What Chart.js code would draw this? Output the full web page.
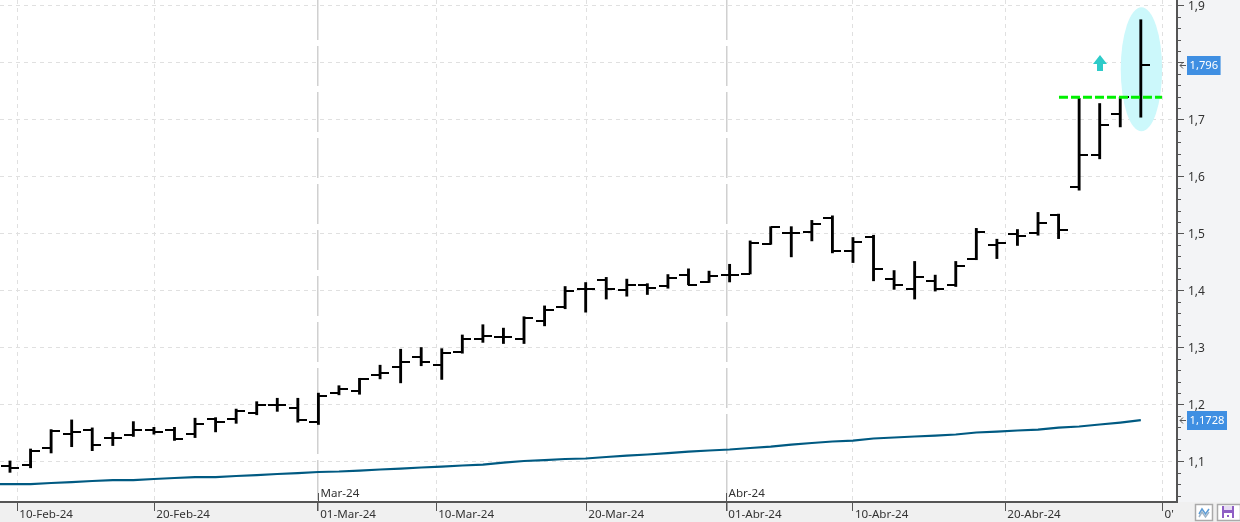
<!DOCTYPE html>
<html>
<head>
<meta charset="utf-8">
<title>Chart</title>
<style>
  html, body { margin: 0; padding: 0; background: #fff; }
  canvas { display: block; }
</style>
<script src="https://cdn.jsdelivr.net/npm/chart.js@4/dist/chart.umd.min.js"></script>
</head>
<body>
<canvas id="grafico" width="1240" height="522"></canvas>
<script>
// daily bars, index 0 = first session on screen
var openValues = [1.092,1.094,1.123,1.149,1.156,1.142,1.147,1.156,1.156,1.149,1.175,1.175,1.185,1.199,1.194,1.169,
  1.221,1.224,1.251,1.266,1.283,1.270,1.292,1.315,1.318,1.315,1.347,1.371,1.402,1.419,1.401,1.409,1.408,1.427,1.415,1.427,
  1.429,1.482,1.500,1.503,1.527,1.470,1.493,1.421,1.403,1.416,1.410,1.455,1.480,1.499,1.500,1.533,1.582,1.638,1.710,1.739];
var highValues = [1.101,1.122,1.156,1.173,1.159,1.151,1.170,1.160,1.160,1.176,1.177,1.192,1.205,1.211,1.211,1.220,
  1.233,1.246,1.269,1.297,1.300,1.298,1.322,1.340,1.334,1.354,1.373,1.407,1.414,1.423,1.420,1.412,1.428,1.438,1.434,1.446,
  1.487,1.512,1.512,1.523,1.531,1.493,1.497,1.435,1.451,1.427,1.451,1.509,1.490,1.507,1.537,1.534,1.737,1.728,1.739,1.875];
var lowValues = [1.081,1.089,1.115,1.126,1.119,1.128,1.144,1.148,1.137,1.142,1.152,1.167,1.182,1.188,1.169,1.165,
  1.217,1.218,1.245,1.238,1.268,1.244,1.290,1.309,1.307,1.307,1.338,1.368,1.362,1.385,1.390,1.393,1.404,1.410,1.414,1.415,
  1.429,1.481,1.459,1.487,1.466,1.449,1.417,1.402,1.385,1.399,1.407,1.454,1.456,1.479,1.497,1.491,1.576,1.631,1.687,1.704];
var closeValues = [1.088,1.119,1.154,1.152,1.129,1.142,1.156,1.151,1.139,1.166,1.170,1.189,1.200,1.199,1.173,1.215,
  1.227,1.244,1.255,1.275,1.275,1.291,1.315,1.320,1.318,1.351,1.366,1.400,1.403,1.403,1.410,1.404,1.422,1.410,1.426,1.427,
  1.484,1.512,1.500,1.517,1.469,1.485,1.438,1.410,1.423,1.403,1.443,1.503,1.484,1.495,1.519,1.506,1.638,1.690,1.739,1.796];

// moving average, first value sits one session before the screen
var avgValues = [1.0605,1.0605,1.0605,1.0623,1.0640,1.0658,1.0675,1.0675,1.0693,1.0711,1.0728,1.0728,1.0746,1.0763,1.0781,1.0798,1.0816,
  1.0825,1.0842,1.0860,1.0877,1.0895,1.0912,1.0930,1.0947,1.0982,1.1009,1.1026,1.1044,1.1053,1.1079,1.1105,1.1123,1.1149,1.1175,1.1193,1.1211,
  1.1237,1.1263,1.1298,1.1325,1.1351,1.1368,1.1404,1.1421,1.1439,1.1456,1.1474,1.1509,1.1526,1.1544,1.1561,1.1596,1.1614,1.1649,1.1684,1.1725];

var dateTicks = [0.355,7.02,14.99,20.73,28.03,34.84,41.0,48.41,56.06];
var dateLabels = ['10-Feb-24','20-Feb-24','01-Mar-24','10-Mar-24','20-Mar-24','01-Abr-24','10-Abr-24','20-Abr-24',"0'"];
var monthTicks = [14.99,34.84];
var monthLabels = ['Mar-24','Abr-24'];
var yTicks = [1.1,1.2,1.3,1.4,1.5,1.6,1.7,1.8,1.9];
var yTickLabels = ['1,1','1,2','1,3','1,4','1,5','1,6','1,7','1,8','1,9'];
var yMinorTicks = [1.04,1.06,1.08,1.12,1.14,1.16,1.18,1.22,1.24,1.26,1.28,1.32,1.34,1.36,1.38,1.42,1.44,1.46,1.48,1.52,1.54,1.56,1.58,1.62,1.64,1.66,1.68,1.72,1.74,1.76,1.78,1.82,1.84,1.86,1.88];
var resistLine = [{x:51.02,y:1.739},{x:56.03,y:1.739}];
var signalArrow = [{x:53,y:1.799}];
var ellipseCentre = {x:55.03,y:1.788};
var lastPrices = [1.796,1.1728];
var lastPriceLabels = ['1,796','1,1728'];

var FONT = '"Noto Sans"';

function tickImage(side){
  var c = document.createElement('canvas');
  c.width = 18; c.height = 2;
  var g = c.getContext('2d');
  g.fillStyle = '#000';
  if(side == 'left') g.fillRect(0,0,9,2); else g.fillRect(9,0,9,2);
  return c;
}

function arrowImage(){
  var c = document.createElement('canvas');
  c.width = 16; c.height = 17;
  var g = c.getContext('2d');
  g.fillStyle = '#2ecbc9';
  g.beginPath();
  g.moveTo(8,0); g.lineTo(15,9); g.lineTo(11,9); g.lineTo(11,16); g.lineTo(5,16); g.lineTo(5,9); g.lineTo(1,9);
  g.closePath();
  g.fill();
  return c;
}

function conIndice(valores,desde){
  var salida = [];
  for(var i=0;i<valores.length;i++){
    salida.push({x:i+desde,y:valores[i]});
  }
  return salida;
}

var rangos = [];
for(var i=0;i<highValues.length;i++){
  rangos.push({x:i,y:[lowValues[i],highValues[i]]});
}

var decoracion = {
  id:'decoracion',
  beforeDraw:function(chart){
    var ctx = chart.ctx, a = chart.chartArea;
    ctx.save();
    ctx.fillStyle = '#fff';
    ctx.fillRect(0,0,chart.width,chart.height);
    ctx.fillStyle = '#f0f0f0';
    ctx.fillRect(0,a.bottom,chart.width,chart.height-a.bottom);
    ctx.fillStyle = '#f3f4f6';
    ctx.fillRect(a.right,0,chart.width-a.right,a.bottom);
    ctx.restore();
  },
  beforeDatasetsDraw:function(chart){
    var ctx = chart.ctx;
    ctx.imageSmoothingEnabled = false; // keeps the 2px bar ticks sharp
    ctx.save();
    ctx.fillStyle = '#ccf8fb';
    ctx.beginPath();
    ctx.ellipse(chart.scales.x.getPixelForValue(ellipseCentre.x),chart.scales.y.getPixelForValue(ellipseCentre.y),20.7,62,0,0,Math.PI*2);
    ctx.fill();
    ctx.restore();
  },
  afterDraw:function(chart){
    var ctx = chart.ctx, a = chart.chartArea, sx = chart.scales.x, sy = chart.scales.y;
    ctx.save();
    // minor ticks on the price axis
    ctx.strokeStyle = '#555';
    ctx.lineWidth = 1;
    ctx.beginPath();
    yMinorTicks.forEach(function(v){
      var y = Math.round(sy.getPixelForValue(v))+0.5;
      ctx.moveTo(a.right,y); ctx.lineTo(a.right+4,y);
    });
    ctx.stroke();
    // month tier
    ctx.font = '11.6px '+FONT;
    ctx.fillStyle = '#333';
    ctx.textBaseline = 'middle';
    ctx.textAlign = 'left';
    monthTicks.forEach(function(v,i){
      var x = Math.round(sx.getPixelForValue(v))+0.5;
      ctx.beginPath();
      ctx.moveTo(x,a.bottom-9); ctx.lineTo(x,a.bottom);
      ctx.stroke();
      ctx.fillText(monthLabels[i],x+2,a.bottom-8.5);
    });
    // last value boxes
    lastPrices.forEach(function(v,i){
      var y = Math.round(sy.getPixelForValue(v));
      ctx.font = '11.2px '+FONT;
      var w = ctx.measureText(lastPriceLabels[i]).width+5;
      ctx.fillStyle = '#3f8fe2';
      ctx.fillRect(a.right+10,y-9,w,19);
      ctx.fillStyle = '#fff';
      ctx.fillText(lastPriceLabels[i],a.right+12.5,y+0.5);
      ctx.strokeStyle = '#555';
      ctx.beginPath();
      ctx.moveTo(a.right+9,y+0.5); ctx.lineTo(a.right+3,y+0.5);
      ctx.moveTo(a.right+6,y-2.5); ctx.lineTo(a.right+3,y+0.5); ctx.lineTo(a.right+6,y+3.5);
      ctx.stroke();
    });
    // buttons bottom right
    ctx.fillStyle = '#fff';
    ctx.strokeStyle = '#aaa';
    ctx.lineWidth = 1.5;
    ctx.fillRect(1195.5,504.5,17,16);
    ctx.strokeRect(1195.5,504.5,17,16);
    ctx.fillRect(1217.5,504.5,23,16);
    ctx.strokeRect(1217.5,504.5,23,16);
    ctx.strokeStyle = '#5b9bd5';
    ctx.beginPath();
    ctx.moveTo(1199,514); ctx.lineTo(1202,509); ctx.lineTo(1205.5,514); ctx.lineTo(1209,509);
    ctx.stroke();
    ctx.strokeStyle = '#9fb4c8';
    ctx.beginPath();
    ctx.moveTo(1199,517); ctx.lineTo(1202,512); ctx.lineTo(1205.5,517); ctx.lineTo(1209,512);
    ctx.stroke();
    ctx.fillStyle = '#8f5fc4';
    ctx.fillRect(1222,506,12,12);
    ctx.fillStyle = '#e6dcf3';
    ctx.fillRect(1224,506,8,4);
    ctx.fillStyle = '#fff';
    ctx.fillRect(1224,513,8,5);
    ctx.fillStyle = '#8f5fc4';
    ctx.fillRect(1227,515,2,2);
    ctx.restore();
  }
};

new Chart(document.getElementById('grafico'),{
  type:'bar',
  data:{
    datasets:[
      {type:'line',data:conIndice(avgValues,-1),borderColor:'#005a82',borderWidth:2.2,pointRadius:0,order:5},
      {type:'bar',data:rangos,backgroundColor:'#000',barThickness:2.2,order:4},
      {type:'line',data:conIndice(openValues,0),showLine:false,pointStyle:tickImage('left'),order:3},
      {type:'line',data:conIndice(closeValues,0),showLine:false,pointStyle:tickImage('right'),order:2},
      {type:'line',data:resistLine,borderColor:'#00f000',borderWidth:3,borderDash:[9,3],pointRadius:0,order:1},
      {type:'line',data:signalArrow,showLine:false,pointStyle:arrowImage(),order:0}
    ]
  },
  options:{
    responsive:false,
    animation:false,
    devicePixelRatio:1,
    layout:{padding:0,autoPadding:false},
    plugins:{legend:{display:false},tooltip:{enabled:false}},
    scales:{
      x:{
        type:'linear',
        offset:false,
        min:-0.486,
        max:56.76,
        afterFit:function(s){s.height = 20; s.paddingLeft = 0; s.paddingRight = 0;},
        afterBuildTicks:function(s){s.ticks = dateTicks.map(function(v){return {value:v};});},
        grid:{
          offset:false,
          color:function(c){return monthTicks.indexOf(c.tick && c.tick.value)>=0 ? '#d0d0d0' : '#e0e0e0';},
          lineWidth:function(c){return monthTicks.indexOf(c.tick && c.tick.value)>=0 ? 1.5 : 1;},
          tickColor:'#555',
          tickLength:9
        },
        border:{
          color:'#555',
          width:2,
          dash:function(c){return monthTicks.indexOf(c.tick && c.tick.value)>=0 ? [40,6] : [4,4];}
        },
        ticks:{
          autoSkip:false,
          maxRotation:0,
          minRotation:0,
          align:'start',
          padding:-3,
          labelOffset:2,
          color:'#333',
          font:{family:FONT,size:11.6},
          callback:function(v,i){return dateLabels[i];}
        }
      },
      y:{
        type:'linear',
        position:'right',
        min:1.029,
        max:1.9096,
        afterFit:function(s){s.width = 63; s.paddingTop = 0; s.paddingBottom = 0;},
        afterBuildTicks:function(s){s.ticks = yTicks.map(function(v){return {value:v};});},
        grid:{color:'#e0e0e0',tickColor:'#555',tickLength:7},
        border:{color:'#555',width:2,dash:[4,4]},
        ticks:{
          autoSkip:false,
          padding:4,
          labelOffset:1.5,
          color:'#333',
          font:{family:FONT,size:12},
          callback:function(v,i){return yTickLabels[i];}
        }
      }
    }
  },
  plugins:[decoracion]
});
</script>
</body>
</html>
